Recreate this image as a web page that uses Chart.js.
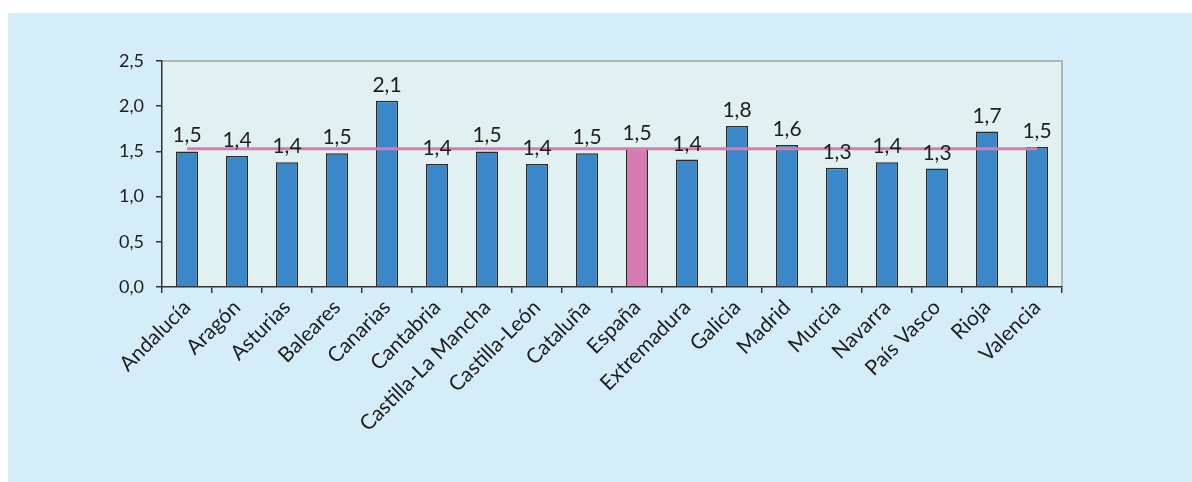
<!DOCTYPE html>
<html>
<head>
<meta charset="utf-8">
<script src="https://cdn.jsdelivr.net/npm/chart.js@4.4.0/dist/chart.umd.min.js"></script>
<style>
  html, body { margin: 0; padding: 0; background: #ffffff; }
  #panel { position: absolute; left: 8px; top: 13px; width: 1184px; height: 469px; background: #d5ecf9; }
  canvas { display: block; }
</style>
</head>
<body>
<div id="panel"><canvas id="c" width="1184" height="469"></canvas></div>
<script>
const categories = ['Andalucía','Aragón','Asturias','Baleares','Canarias','Cantabria','Castilla-La Mancha','Castilla-León','Cataluña','España','Extremadura','Galicia','Madrid','Murcia','Navarra','País Vasco','Rioja','Valencia'];
const barValues = [1.50, 1.45, 1.38, 1.48, 2.06, 1.36, 1.50, 1.36, 1.48, 1.53, 1.41, 1.78, 1.57, 1.32, 1.38, 1.31, 1.72, 1.55];
const valueLabels = ['1,5','1,4','1,4','1,5','2,1','1,4','1,5','1,4','1,5','1,5','1,4','1,8','1,6','1,3','1,4','1,3','1,7','1,5'];
const spainLine = [1.53, 1.53, 1.53, 1.53, 1.53, 1.53, 1.53, 1.53, 1.53, 1.53, 1.53, 1.53, 1.53, 1.53, 1.53, 1.53, 1.53, 1.53];
const yTicks = [0, 0.5, 1.0, 1.5, 2.0, 2.5];

const FONT = 'Lato, "Open Sans", sans-serif';
const blue = '#3a88c9';
const pink = '#d77bb2';

const barColors = categories.map(c => c === 'España' ? pink : blue);

const areaPlugin = {
  id: 'areaBg',
  beforeDraw(chart) {
    const {ctx, chartArea: a} = chart;
    ctx.save();
    ctx.fillStyle = '#e1f1f1';
    ctx.fillRect(a.left, a.top, a.right - a.left, a.bottom - a.top);
    ctx.strokeStyle = '#b3b6b9';
    ctx.lineWidth = 2;
    ctx.beginPath();
    ctx.moveTo(a.left, a.top);
    ctx.lineTo(a.right, a.top);
    ctx.lineTo(a.right, a.bottom);
    ctx.stroke();
    ctx.restore();
  }
};

const labelPlugin = {
  id: 'valueLabels',
  afterDatasetsDraw(chart) {
    const meta = chart.getDatasetMeta(0);
    const ctx = chart.ctx;
    ctx.save();
    ctx.font = '21px ' + FONT;
    ctx.fillStyle = '#1e1e1e';
    ctx.textAlign = 'center';
    ctx.textBaseline = 'alphabetic';
    meta.data.forEach((bar, i) => {
      ctx.fillText(valueLabels[i], bar.x, bar.y - 9);
    });
    ctx.restore();
  }
};

new Chart(document.getElementById('c'), {
  data: {
    labels: categories,
    datasets: [
      {
        type: 'bar',
        data: barValues,
        backgroundColor: barColors,
        borderColor: '#2a2a2a',
        borderWidth: 1.5,
        barPercentage: 0.88,
        categoryPercentage: 0.5,
        order: 1
      },
      {
        type: 'line',
        data: spainLine,
        borderColor: pink,
        borderWidth: 3,
        pointRadius: 0,
        fill: false,
        order: 0
      }
    ]
  },
  options: {
    responsive: false,
    animation: false,
    devicePixelRatio: 1,
    layout: { padding: { left: 0, top: 48, right: 130, bottom: 0 } },
    plugins: { legend: { display: false }, tooltip: { enabled: false } },
    scales: {
      x: {
        offset: true,
        grid: { offset: true, drawOnChartArea: false, drawTicks: true, tickLength: 6, color: '#333', lineWidth: 1.5 },
        border: { display: true, color: '#333', width: 1.5 },
        ticks: {
          minRotation: 45, maxRotation: 45, autoSkip: false, padding: 2,
          color: '#1e1e1e', font: { family: FONT, size: 21 }
        },
        afterFit(scale) { scale.height = 195; }
      },
      y: {
        min: 0, max: 2.5,
        afterBuildTicks(scale) { scale.ticks = yTicks.map(v => ({ value: v })); },
        grid: { drawOnChartArea: false, drawTicks: true, tickLength: 6, color: '#333', lineWidth: 1.5 },
        border: { display: true, color: '#333', width: 1.5 },
        ticks: {
          padding: 12, color: '#1e1e1e', font: { family: FONT, size: 18 },
          callback: v => v.toFixed(1).replace('.', ',')
        },
        afterFit(scale) { scale.width = 154; }
      }
    }
  },
  plugins: [areaPlugin, labelPlugin]
});
</script>
</body>
</html>
